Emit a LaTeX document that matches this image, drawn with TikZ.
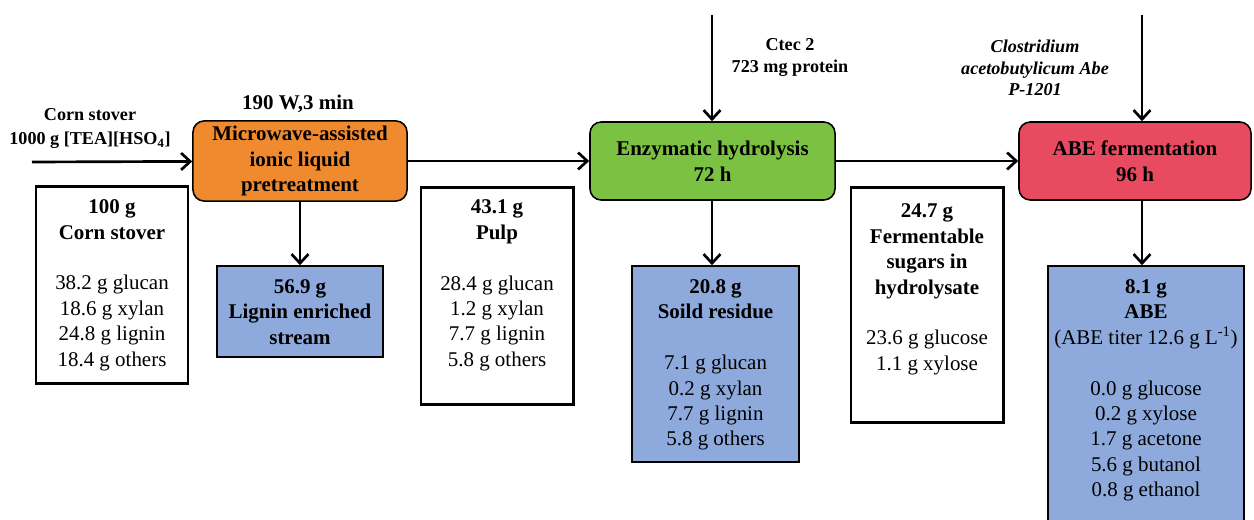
\documentclass[tikz,border=0pt]{standalone}
\usepackage{fontspec}
\setmainfont{Liberation Serif}
\usetikzlibrary{arrows.meta}

\definecolor{preorange}{RGB}{240,138,46}
\definecolor{hydgreen}{RGB}{124,194,66}
\definecolor{abered}{RGB}{232,74,95}
\definecolor{outblue}{RGB}{142,170,220}

\begin{document}
\begin{tikzpicture}[
  x=0.025cm, y=-0.025cm,
  proc/.style={draw=black, line width=1.1pt, rounded corners=8pt, minimum height=1.95cm,
    align=center, font=\fontsize{14.9}{18.4}\selectfont\bfseries},
  mass/.style={draw=black, line width=2.1pt, fill=white, inner sep=0pt},
  outbox/.style={draw=black, line width=1.1pt, fill=outblue, inner sep=0pt},
  txt/.style={anchor=north, inner sep=0pt, align=center, font=\fontsize{14.9}{18.1}\selectfont},
  lbl/.style={inner sep=0pt, align=center, font=\fontsize{12.9}{15.2}\selectfont\bfseries},
  arr/.style={line width=1.9pt, draw=black, -{Straight Barb[length=6.5pt,width=12pt,line width=1.9pt]}}
]
\clip (0,0) rectangle (1254,519);

% --- free ends of the feed arrows ---
\coordinate (feed) at (32,162);
\coordinate (enz) at (712,15);
\coordinate (mic) at (1142,15);

% --- process steps ---
\node[proc, fill=preorange, minimum width=5.35cm] (pre) at (300,161)
  {Microwave-assisted\\ionic liquid\\pretreatment};
\node[proc, fill=hydgreen, minimum width=6.125cm] (hyd) at (712.5,161)
  {Enzymatic hydrolysis\\72 h};
\node[proc, fill=abered, minimum width=5.8cm] (abe) at (1135,161)
  {ABE fermentation\\96 h};

% --- mass boxes between the steps ---
\node[mass, minimum width=3.8cm, minimum height=4.9cm] (stover) at (112,285) {};
\node[mass, minimum width=3.8cm, minimum height=5.4cm] (pulp) at (497,296) {};
\node[mass, minimum width=3.8cm, minimum height=5.85cm] (sugar) at (927,305) {};

% --- output streams ---
\node[outbox, minimum width=4.15cm, minimum height=2.275cm] (lig) at (300,311.5) {};
\node[outbox, minimum width=4.175cm, minimum height=4.9cm] (res) at (715.5,364) {};
\node[outbox, minimum width=4.9cm, minimum height=6.85cm] (prod) at (1146,403) {};

% --- box texts ---
\node[txt, below=0.35cm] (stovertxt) at (stover.north)
  {\textbf{100 g}\\\textbf{Corn stover}\\[18pt]38.2 g glucan\\18.6 g xylan\\24.8 g lignin\\18.4 g others};
\node[txt, below=0.33cm] (pulptxt) at (pulp.north)
  {\textbf{43.1 g}\\\textbf{Pulp}\\[18pt]28.4 g glucan\\1.2 g xylan\\7.7 g lignin\\5.8 g others};
\node[txt, below=0.43cm] (sugartxt) at (sugar.north)
  {\textbf{24.7 g}\\\textbf{Fermentable}\\\textbf{sugars in}\\\textbf{hydrolysate}\\[18pt]23.6 g glucose\\1.1 g xylose};
\node[txt, below=0.35cm] (ligtxt) at (lig.north)
  {\textbf{56.9 g}\\\textbf{Lignin enriched}\\\textbf{stream}};
\node[txt, below=0.35cm] (restxt) at (res.north)
  {\textbf{20.8 g}\\\textbf{Soild residue}\\[18pt]7.1 g glucan\\0.2 g xylan\\7.7 g lignin\\5.8 g others};
\node[txt, below=0.35cm] (prodtxt) at (prod.north)
  {\textbf{8.1 g}\\\textbf{ABE}\\(ABE titer 12.6 g L\textsuperscript{-1})\\[18pt]0.0 g glucose\\0.2 g xylose\\1.7 g acetone\\5.6 g butanol\\0.8 g ethanol};

% --- conditions ---
\node[lbl, font=\fontsize{12.9}{17.7}\selectfont\bfseries] (feedlbl) at (90,128.5)
  {Corn stover\\1000 g [TEA][HSO\textsubscript{4}]};
\node[lbl, font=\fontsize{14.9}{18}\selectfont\bfseries] (mwlbl) at (298,104) {190 W,3 min};
\node[lbl] (enzlbl) at (790,57.5) {Ctec 2\\723 mg protein};
\node[lbl, font=\fontsize{12.9}{15.2}\selectfont\bfseries\itshape] (miclbl) at (1035,68)
  {Clostridium\\acetobutylicum Abe\\P-1201};

% --- streams ---
\path[arr] (feed) -- (pre);
\path[arr] (pre) -- (hyd);
\path[arr] (hyd) -- (abe);
\path[arr] (pre) -- (lig);
\path[arr] (enz) -- (enz |- hyd.north);
\path[arr] (enz |- hyd.south) -- (enz |- res.north);
\path[arr] (mic) -- (mic |- abe.north);
\path[arr] (mic |- abe.south) -- (mic |- prod.north);

\end{tikzpicture}
\end{document}
